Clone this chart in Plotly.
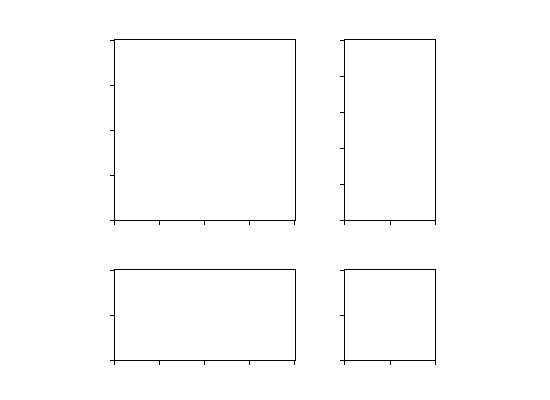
import plotly.graph_objects as go

# empty panels, only the tick grids
main_xticks = [0, 1, 2, 3, 4]
main_yticks = [0, 1, 2, 3, 4]
side_xticks = [0, 1, 2]
side_yticks = [0, 1, 2, 3, 4, 5]
low_yticks = [0, 1, 2]

# page body adds an 8px offset, domains account for it
panels = [
    # (xaxis, yaxis, x domain, y domain, x ticks, y ticks)
    ("x", "y", [0.1945, 0.5218], [0.47, 0.92], main_xticks, main_yticks),
    ("x2", "y2", [0.6127, 0.7764], [0.47, 0.92], side_xticks, side_yticks),
    ("x3", "y3", [0.1945, 0.5218], [0.12, 0.345], main_xticks, low_yticks),
    ("x4", "y4", [0.6127, 0.7764], [0.12, 0.345], side_xticks, low_yticks),
]

fig = go.Figure()
layout = {}
for xa, ya, xd, yd, xt, yt in panels:
    fig.add_trace(go.Scatter(x=[], y=[], xaxis=xa, yaxis=ya, showlegend=False))
    xkey = "xaxis" + xa[1:]
    ykey = "yaxis" + ya[1:]
    common = dict(showline=True, linecolor="black", linewidth=1, mirror=True,
                  ticks="outside", ticklen=4, tickwidth=1, tickcolor="black",
                  showticklabels=False, showgrid=False, zeroline=False,
                  fixedrange=True)
    layout[xkey] = dict(domain=xd, range=[xt[0], xt[-1]], tickvals=xt,
                        anchor=ya, **common)
    layout[ykey] = dict(domain=yd, range=[yt[0], yt[-1]], tickvals=yt,
                        anchor=xa, **common)

fig.update_layout(width=550, height=400, margin=dict(l=0, r=0, t=0, b=0),
                  plot_bgcolor="white", paper_bgcolor="white", **layout)
fig.write_html("out.html")
